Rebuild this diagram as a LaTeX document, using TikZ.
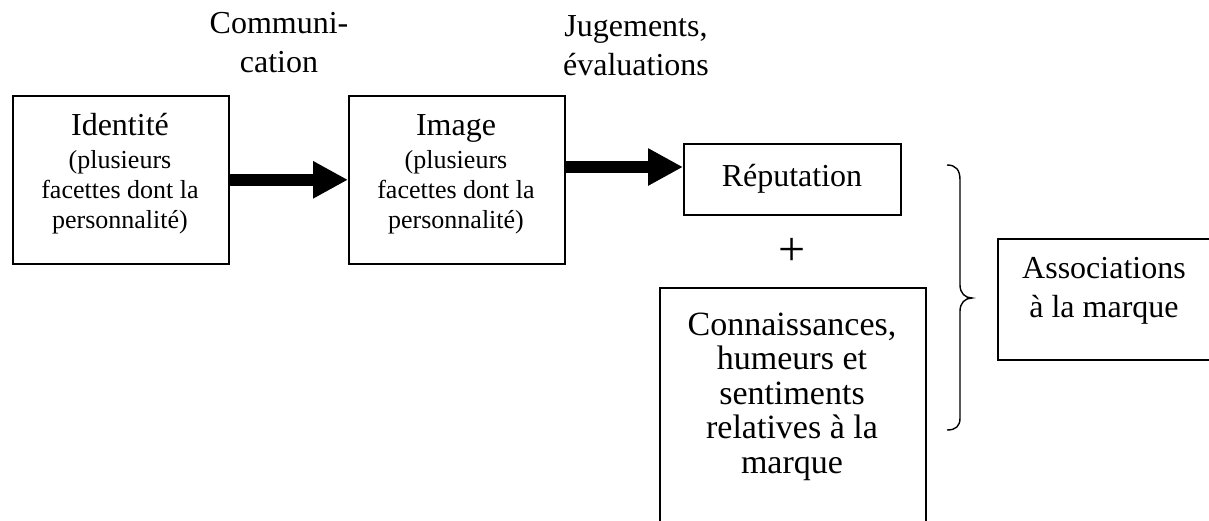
\documentclass[tikz,border=0pt]{standalone}
\usepackage{fontspec}
\setmainfont{Liberation Serif}
\usetikzlibrary{arrows.meta}
\begin{document}
\begin{tikzpicture}[x=1pt, y=-1pt,
  box/.style={draw, line width=1.6pt, inner sep=0pt, anchor=north west},
  big/.style={font=\fontsize{32}{39}\selectfont, inner sep=0pt, align=center, anchor=base},
  small/.style={font=\fontsize{26}{30}\selectfont, inner sep=0pt, align=center, anchor=base},
  fat/.style={line width=12pt, -{Triangle[length=35pt, width=35pt]}},
]
\useasboundingbox (0,0) rectangle (1209,520);

% boxes
\node[box, minimum width=216pt, minimum height=168pt] (id) at (12,95) {};
\node[box, minimum width=216pt, minimum height=168pt] (img) at (348,95) {};
\node[box, minimum width=217pt, minimum height=71pt] (rep) at (683,143) {};
\node[box, minimum width=266pt, minimum height=280pt] (con) at (659,287) {};
\node[box, minimum width=240pt, minimum height=121pt] (ass) at (997,238) {};

% box texts (multi-line nodes sit on the baseline of their last line)
\node[big] (idt) at (120,135) {Identité};
\node[small] (ids) at (120,228) {(plusieurs\\facettes dont la\\personnalité)};
\node[big] (imt) at (456,135) {Image};
\node[small] (ims) at (456,228) {(plusieurs\\facettes dont la\\personnalité)};
\node[big] (rept) at (792,186) {Réputation};
\node[big, font=\fontsize{34}{34.5}\selectfont] (cont) at (792,473)
  {Connaissances,\\humeurs et\\sentiments\\relatives à la\\marque};
\node[big] (asst) at (1104,317) {Associations\\à la marque};

% labels over the arrows
\node[big] (lcom) at (279,72) {Communi-\\cation};
\node[big] (ljug) at (636,75) {Jugements,\\évaluations};

% plus sign
\node[inner sep=0pt, font=\fontsize{48}{48}\selectfont] (plus) at (792,252) {+};

% thick arrows
\draw[fat] (id.east) -- (img.west);
\coordinate (a2s) at (img.east |- 0,167);
\coordinate (a2e) at (rep.west |- 0,167);
\draw[fat] (a2s) -- (a2e);

% curly brace
\draw[line width=1.4pt] (947,165) .. controls (956,165) and (960,170) .. (960,180)
  -- (960,285) .. controls (960,293) and (965,298) .. (972,298)
  .. controls (965,298) and (960,303) .. (960,311)
  -- (960,418) .. controls (960,426) and (956,430) .. (947,430);
\end{tikzpicture}
\end{document}
